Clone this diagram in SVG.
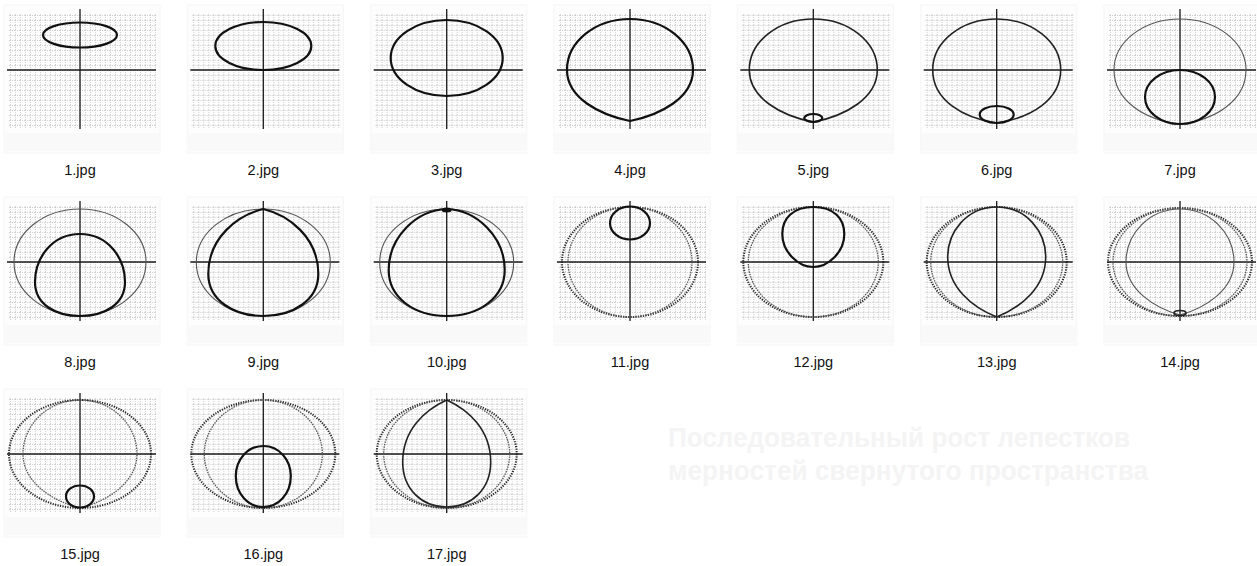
<svg xmlns="http://www.w3.org/2000/svg" xmlns:xlink="http://www.w3.org/1999/xlink" width="1257" height="566" viewBox="0 0 1257 566">
<style>
  .lbl { font-family: "Liberation Sans", Arial, sans-serif; font-size: 14.5px; fill: #111; text-anchor: middle; }
  .title { font-family: "Liberation Sans", Arial, sans-serif; font-size: 27px; font-weight: bold; fill: #f4f4f4; }
  .thick { fill: none; stroke: #111; stroke-width: 2.2; }
  .mid { fill: none; stroke: #222; stroke-width: 1.6; }
  .thin { fill: none; stroke: #555; stroke-width: 1.1; }
  .dot { fill: none; stroke: #222; stroke-width: 2; stroke-dasharray: 1.2 1.3; }
  .dotl { fill: none; stroke: #555; stroke-width: 1.3; stroke-dasharray: 1.5 1; }
  .axis { stroke: #1a1a1a; stroke-width: 1.3; }
</style>
<defs>
  <pattern id="grid" width="5" height="5" patternUnits="userSpaceOnUse">
    <line x1="0" y1="0.5" x2="5" y2="0.5" stroke="#d2d2d2" stroke-width="1" stroke-dasharray="1 1"/>
    <line x1="0.5" y1="0" x2="0.5" y2="5" stroke="#d2d2d2" stroke-width="1" stroke-dasharray="1 1"/>
  </pattern>
  <g id="base">
    <rect x="-76" y="-65" width="156" height="148" fill="#fdfdfd" stroke="#f5f5f5" stroke-width="1"/>
    <rect x="-76" y="63" width="156" height="18" fill="#f9f9f9"/>
    <rect x="-72" y="-57" width="149" height="116" fill="url(#grid)"/>
    <line class="axis" x1="-73" y1="0" x2="76" y2="0"/>
    <line class="axis" x1="0" y1="-61" x2="0" y2="59"/>
  </g>
</defs>
<rect width="1257" height="566" fill="#ffffff"/>

<g id="thumb-1" transform="translate(80,70)">
  <use href="#base"/>
  <ellipse class="thick" cx="0" cy="-35" rx="37" ry="12.5"/>
  <text class="lbl" x="0" y="105">1.jpg</text>
</g>
<g id="thumb-2" transform="translate(263.3,70)">
  <use href="#base"/>
  <ellipse class="thick" cx="0" cy="-24" rx="48" ry="24"/>
  <text class="lbl" x="0" y="105">2.jpg</text>
</g>
<g id="thumb-3" transform="translate(446.7,70)">
  <use href="#base"/>
  <ellipse class="thick" cx="0" cy="-12" rx="56" ry="38"/>
  <text class="lbl" x="0" y="105">3.jpg</text>
</g>
<g id="thumb-4" transform="translate(630,70)">
  <use href="#base"/>
  <path class="thick" d="M -63 0 A 63 51 0 0 1 63 0 C 63 28 30 45 0 51 C -30 45 -63 28 -63 0 Z"/>
  <text class="lbl" x="0" y="105">4.jpg</text>
</g>
<g id="thumb-5" transform="translate(813.3,70)">
  <use href="#base"/>
  <path class="mid" d="M -64 0 A 64 51 0 0 1 64 0 C 64 28 32 46 0 52 C -32 46 -64 28 -64 0 Z"/>
  <ellipse class="thick" cx="0" cy="48" rx="9" ry="4"/>
  <text class="lbl" x="0" y="105">5.jpg</text>
</g>
<g id="thumb-6" transform="translate(996.7,70)">
  <use href="#base"/>
  <path class="mid" d="M -64 0 A 64 51 0 0 1 64 0 C 64 30 34 48 0 53 C -34 48 -64 30 -64 0 Z"/>
  <ellipse class="thick" cx="0" cy="44.5" rx="17" ry="8.5"/>
  <text class="lbl" x="0" y="105">6.jpg</text>
</g>
<g id="thumb-7" transform="translate(1180,70)">
  <use href="#base"/>
  <path class="thin" d="M -66 0 A 66 51 0 0 1 66 0 C 66 30 36 50 0 54 C -36 50 -66 30 -66 0 Z"/>
  <ellipse class="thick" cx="0" cy="27" rx="35" ry="27"/>
  <text class="lbl" x="0" y="105">7.jpg</text>
</g>

<g id="thumb-8" transform="translate(80,262)">
  <use href="#base"/>
  <path class="thin" d="M -66 0 A 66 53 0 0 1 66 0 C 66 30 36 53 0 54 C -36 53 -66 30 -66 0 Z"/>
  <path class="thick" d="M 0 -28 C 28 -28 45 -4 45 20 C 45 42 25 54 0 54 C -25 54 -45 42 -45 20 C -45 -4 -28 -28 0 -28 Z"/>
  <text class="lbl" x="0" y="105">8.jpg</text>
</g>
<g id="thumb-9" transform="translate(263.3,262)">
  <use href="#base"/>
  <ellipse class="thin" cx="0" cy="0.5" rx="67" ry="53.5"/>
  <path class="thick" d="M 0 -53 C 25 -47 55 -25 55 12 C 55 38 30 54 0 54 C -30 54 -55 38 -55 12 C -55 -25 -25 -47 0 -53 Z"/>
  <text class="lbl" x="0" y="105">9.jpg</text>
</g>
<g id="thumb-10" transform="translate(446.7,262)">
  <use href="#base"/>
  <ellipse class="thin" cx="0" cy="0.5" rx="67" ry="53.5"/>
  <path class="thick" d="M 0 -53 C 30 -52 58 -25 58 8 C 58 36 32 54 0 54 C -32 54 -58 36 -58 8 C -58 -25 -30 -52 0 -53 Z"/>
  <ellipse cx="0" cy="-52" rx="5" ry="2.5" fill="#111"/>
  <text class="lbl" x="0" y="105">10.jpg</text>
</g>
<g id="thumb-11" transform="translate(630,262)">
  <use href="#base"/>
  <ellipse class="dot" cx="0" cy="0" rx="68" ry="55"/>
  <ellipse class="dotl" cx="0" cy="0" rx="62" ry="55"/>
  <ellipse class="thick" cx="0" cy="-39" rx="20" ry="16.5"/>
  <text class="lbl" x="0" y="105">11.jpg</text>
</g>
<g id="thumb-12" transform="translate(813.3,262)">
  <use href="#base"/>
  <ellipse class="dot" cx="0" cy="0" rx="70" ry="55"/>
  <ellipse class="dotl" cx="0" cy="0" rx="65" ry="55"/>
  <path class="thick" d="M 0 -55 C 20 -55 31 -44 31 -28 C 31 -10 15 5 0 5 C -15 5 -31 -10 -31 -28 C -31 -44 -20 -55 0 -55 Z"/>
  <text class="lbl" x="0" y="105">12.jpg</text>
</g>
<g id="thumb-13" transform="translate(996.7,262)">
  <use href="#base"/>
  <ellipse class="dot" cx="0" cy="0" rx="70" ry="55"/>
  <ellipse class="dotl" cx="0" cy="0" rx="66" ry="55"/>
  <path class="mid" d="M 0 -55 C 30 -55 49 -30 49 -5 C 49 25 25 45 0 55 C -25 45 -49 25 -49 -5 C -49 -30 -30 -55 0 -55 Z"/>
  <text class="lbl" x="0" y="105">13.jpg</text>
</g>
<g id="thumb-14" transform="translate(1180,262)">
  <use href="#base"/>
  <ellipse class="dot" cx="0" cy="0" rx="72" ry="54"/>
  <ellipse class="dotl" cx="0" cy="0" rx="67" ry="54"/>
  <path class="thin" d="M -54 0 A 54 53 0 0 1 54 0 C 54 28 25 46 0 53 C -25 46 -54 28 -54 0 Z"/>
  <ellipse class="mid" cx="0" cy="51" rx="6" ry="2.5"/>
  <text class="lbl" x="0" y="105">14.jpg</text>
</g>

<g id="thumb-15" transform="translate(80,454)">
  <use href="#base"/>
  <ellipse class="dot" cx="0" cy="0" rx="71" ry="54"/>
  <path class="dotl" d="M -57 0 A 57 54 0 0 1 57 0 C 57 28 28 47 0 54 C -28 47 -57 28 -57 0 Z"/>
  <ellipse class="thick" cx="0" cy="42.5" rx="14" ry="11"/>
  <text class="lbl" x="0" y="105">15.jpg</text>
</g>
<g id="thumb-16" transform="translate(263.3,454)">
  <use href="#base"/>
  <ellipse class="dot" cx="0" cy="0" rx="72" ry="54"/>
  <ellipse class="dotl" cx="0" cy="0" rx="59" ry="54"/>
  <path class="thick" d="M 0 -8 C 16 -8 27.5 6 27.5 22 C 27.5 40 15 53 0 53 C -15 53 -27.5 40 -27.5 22 C -27.5 6 -16 -8 0 -8 Z"/>
  <text class="lbl" x="0" y="105">16.jpg</text>
</g>
<g id="thumb-17" transform="translate(446.7,454)">
  <use href="#base"/>
  <ellipse class="dot" cx="0" cy="0" rx="70" ry="54"/>
  <ellipse class="dotl" cx="0" cy="0" rx="63" ry="54"/>
  <path class="mid" d="M 0 -54 C 22 -44 44 -24 44 8 C 44 35 25 53 0 53 C -25 53 -44 35 -44 8 C -44 -24 -22 -44 0 -54 Z"/>
  <text class="lbl" x="0" y="105">17.jpg</text>
</g>

<g id="title">
  <text class="title" x="668" y="447" textLength="462" lengthAdjust="spacingAndGlyphs">Последовательный рост лепестков</text>
  <text class="title" x="668" y="480" textLength="480" lengthAdjust="spacingAndGlyphs">мерностей  свернутого пространства</text>
</g>
<g id="connectors"/>
</svg>
